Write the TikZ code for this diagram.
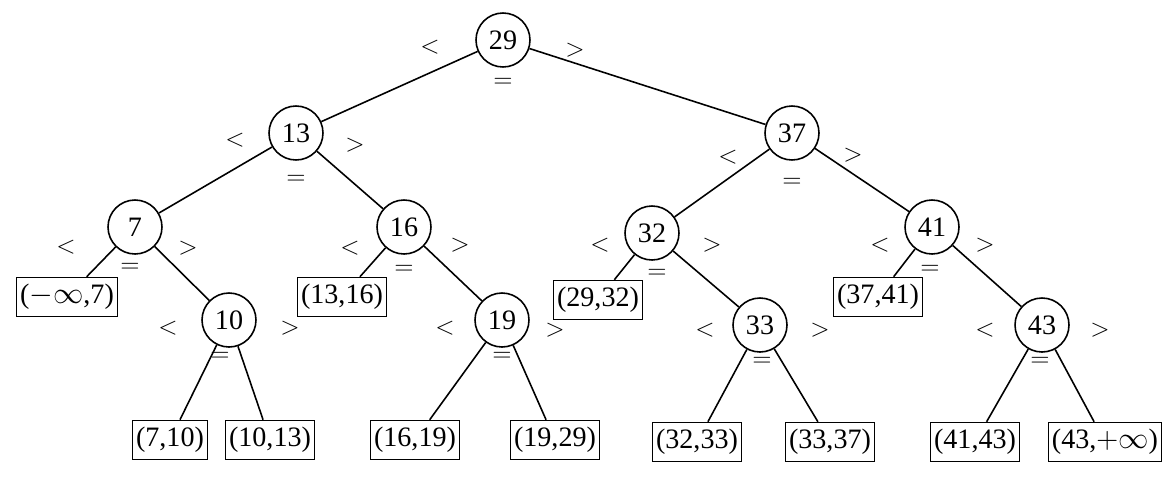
\documentclass[tikz,border=0pt]{standalone}
\usepackage{fontspec}
\setmainfont{Liberation Serif}
\begin{document}
\begin{tikzpicture}[x=0.02cm,y=-0.02cm,
  nd/.style={circle,draw,line width=0.9pt,minimum size=1.08cm,inner sep=0pt,font=\fontsize{16}{18}\selectfont},
  lf/.style={rectangle,draw,line width=0.9pt,minimum height=0.78cm,inner sep=2pt,font=\fontsize{16}{18}\selectfont},
  lb/.style={font=\fontsize{15}{17}\selectfont},
  ed/.style={line width=0.9pt}]
\useasboundingbox (0,0) rectangle (1162,478);
\node[nd] (n29) at (503,40) {29};
\node[nd] (n13) at (296,133) {13};
\node[nd] (n37) at (792,133) {37};
\node[nd] (n7) at (135,227) {7};
\node[nd] (n16) at (404,227) {16};
\node[nd] (n32) at (652,233) {32};
\node[nd] (n41) at (932,227) {41};
\node[nd] (n10) at (229,320) {10};
\node[nd] (n19) at (502,320) {19};
\node[nd] (n33) at (760,325) {33};
\node[nd] (n43) at (1042,325) {43};
\node[lf] (l1) at (67,297) {($-\infty$,7)};
\node[lf] (l2) at (342,297) {(13,16)};
\node[lf] (l3) at (598,300) {(29,32)};
\node[lf] (l4) at (878,297) {(37,41)};
\node[lf] (l5) at (170,440) {(7,10)};
\node[lf] (l6) at (270,440) {(10,13)};
\node[lf] (l7) at (415,440) {(16,19)};
\node[lf] (l8) at (555,440) {(19,29)};
\node[lf] (l9) at (697,442) {(32,33)};
\node[lf] (l10) at (830,442) {(33,37)};
\node[lf] (l11) at (975,442) {(41,43)};
\node[lf] (l12) at (1105,442) {(43,$+\infty$)};
\foreach \a/\b in {n29/n13,n29/n37,n13/n7,n13/n16,n37/n32,n37/n41,n7/l1,n7/n10,n16/l2,n16/n19,n32/l3,n32/n33,n41/l4,n41/n43,n10/l5,n10/l6,n19/l7,n19/l8,n33/l9,n33/l10,n43/l11,n43/l12}
  \draw[ed] (\a) -- (\b);
\foreach \p/\t in {{(430,47)}/<,{(575,50)}/>,{(503,83)}/=,
 {(235,140)}/<,{(355,145)}/>,{(296,180)}/=,
 {(728,157)}/<,{(853,155)}/>,{(792,183)}/=,
 {(66,247)}/<,{(188,248)}/>,{(130,268)}/=,
 {(350,248)}/<,{(460,245)}/>,{(404,270)}/=,
 {(600,245)}/<,{(712,245)}/>,{(657,274)}/=,
 {(880,245)}/<,{(985,245)}/>,{(930,270)}/=,
 {(168,328)}/<,{(290,328)}/>,{(220,357)}/=,
 {(445,328)}/<,{(555,330)}/>,{(502,357)}/=,
 {(705,330)}/<,{(820,330)}/>,{(762,362)}/=,
 {(985,330)}/<,{(1100,330)}/>,{(1040,362)}/=}
  \node[lb] at \p {$\t$};
\end{tikzpicture}
\end{document}
